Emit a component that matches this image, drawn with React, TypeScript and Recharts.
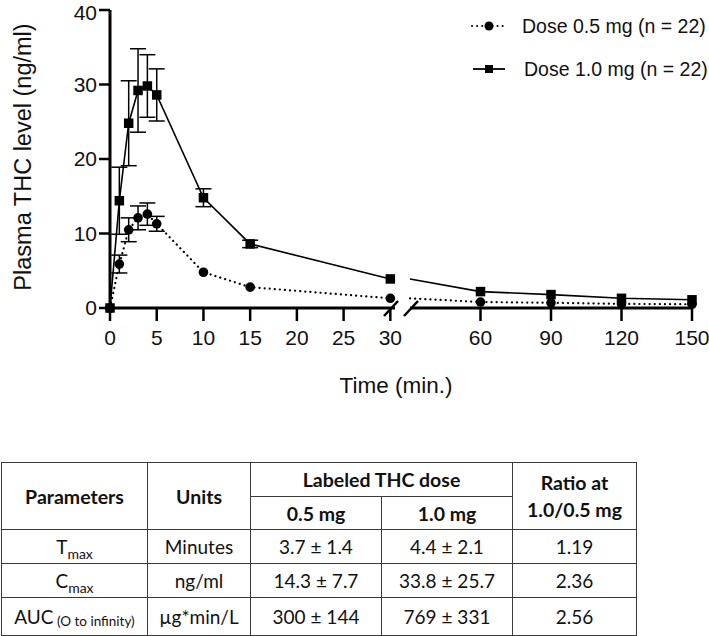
import React from 'react'
import { LineChart, Line, XAxis, YAxis, ErrorBar } from 'recharts'

const times = [0, 1, 2, 3, 4, 5, 10, 15, 30, 60, 90, 120, 150]
const dose05 = [0, 5.9, 10.5, 12.1, 12.6, 11.3, 4.8, 2.8, 1.3, 0.8, 0.7, 0.55, 0.5]
const dose05Err = [0, 1.2, 1.6, 1.6, 1.5, 1.0, 0, 0, 0, 0, 0, 0, 0]
const dose10 = [0, 14.4, 24.8, 29.2, 29.8, 28.6, 14.8, 8.6, 3.9, 2.2, 1.8, 1.3, 1.1]
const dose10Err = [0, 4.5, 5.7, 5.6, 4.2, 3.5, 1.2, 0.5, 0, 0, 0, 0, 0]
const yTicks = [0, 10, 20, 30, 40]
const xTicksEarly = [0, 5, 10, 15, 20, 25, 30]
const xTicksLate = [60, 90, 120, 150]
const seriesNames = ['Dose 0.5 mg (n = 22)', 'Dose 1.0 mg (n = 22)']

// table
const paramNames = ['T', 'C', 'AUC']
const paramSubs = ['max', 'max', '(O to infinity)']
const units = ['Minutes', 'ng/ml', 'µg*min/L']
const lowDose = ['3.7 ± 1.4', '14.3 ± 7.7', '300 ± 144']
const highDose = ['4.4 ± 2.1', '33.8 ± 25.7', '769 ± 331']
const ratios = ['1.19', '2.36', '2.56']

const rows = times.map((t, i) => ({
  time: t,
  low: dose05[i],
  lowErr: dose05Err[i],
  high: dose10[i],
  highErr: dose10Err[i],
}))
const early = rows.filter(r => r.time <= 30)
const late = rows.filter(r => r.time >= 30)

const INK = '#111'
const FONT = '"Liberation Sans", Arial, sans-serif'

const makeSquare = (skipFirst: boolean) => (p: any) => {
  const { cx, cy, index, payload } = p
  if (cx == null || cy == null || (skipFirst && payload.time <= 30)) return <g key={'s' + index} />
  return <rect key={'s' + index} x={cx - 4.75} y={cy - 4.75} width={9.5} height={9.5} fill="#000" />
}
const makeCircle = (skipFirst: boolean) => (p: any) => {
  const { cx, cy, index, payload } = p
  if (cx == null || cy == null || (skipFirst && payload.time <= 30)) return <g key={'c' + index} />
  return <circle key={'c' + index} cx={cx} cy={cy} r={4.8} fill="#000" />
}

const YLabel = ({ viewBox }: any) => {
  const cx = viewBox.x + 23
  const cy = viewBox.y + viewBox.height / 2 - 2
  return (
    <text x={cx} y={cy} transform={`rotate(-90 ${cx} ${cy})`} textAnchor="middle"
      dominantBaseline="central" fontSize={23.5} fill={INK} fontFamily={FONT}>
      Plasma THC level (ng/ml)
    </text>
  )
}

const axisLine = { stroke: '#000', strokeWidth: 3 }
const tickLine = { stroke: '#000', strokeWidth: 2.5 }
const tickStyle = { fontSize: 21, fill: INK, fontFamily: FONT }

function ChartLegend() {
  return (
    <svg width={260} height={95} style={{ position: 'absolute', left: 460, top: 0 }}>
      <line x1={12} x2={47} y1={26} y2={26} stroke="#000" strokeWidth={2} strokeDasharray="0.1 5" strokeLinecap="round" />
      <circle cx={29} cy={26} r={4.5} fill="#000" />
      <text x={62} y={26} dominantBaseline="central" fontSize={19.5} fill={INK} fontFamily={FONT}>{seriesNames[0]}</text>
      <line x1={13} x2={45} y1={69} y2={69} stroke="#000" strokeWidth={1.8} />
      <rect x={25} y={65} width={8} height={8} fill="#000" />
      <text x={64} y={69} dominantBaseline="central" fontSize={19.5} fill={INK} fontFamily={FONT}>{seriesNames[1]}</text>
    </svg>
  )
}

const cell: React.CSSProperties = {
  border: '1.5px solid #3a3a3a',
  padding: 0,
  textAlign: 'center',
  verticalAlign: 'middle',
}
const head: React.CSSProperties = { ...cell, fontWeight: 700, fontSize: 19.5 }

function ParamTable() {
  return (
    <table style={{
      position: 'absolute', left: 1, top: 462, width: 635, borderCollapse: 'collapse',
      tableLayout: 'fixed', fontFamily: 'Lato, sans-serif', fontSize: 19, color: INK,
    }}>
      <colgroup>
        <col style={{ width: 146 }} />
        <col style={{ width: 103 }} />
        <col style={{ width: 131 }} />
        <col style={{ width: 131 }} />
        <col style={{ width: 124 }} />
      </colgroup>
      <tbody>
        <tr style={{ height: 34 }}>
          <td style={head} rowSpan={2}>Parameters</td>
          <td style={head} rowSpan={2}>Units</td>
          <td style={head} colSpan={2}>Labeled THC dose</td>
          <td style={{ ...head, lineHeight: '27px' }} rowSpan={2}>Ratio at<br />1.0/0.5 mg</td>
        </tr>
        <tr style={{ height: 33 }}>
          <td style={head}>0.5 mg</td>
          <td style={head}>1.0 mg</td>
        </tr>
        {paramNames.map((p, i) => (
          <tr key={p + i} style={{ height: i === 2 ? 38 : 34 }}>
            <td style={cell}>
              {p}
              {i < 2
                ? <span style={{ fontSize: 14, position: 'relative', top: 5 }}>{paramSubs[i]}</span>
                : <span style={{ fontSize: 13.5, position: 'relative', top: 2 }}> {paramSubs[i]}</span>}
            </td>
            <td style={cell}>{units[i]}</td>
            <td style={cell}>{lowDose[i]}</td>
            <td style={cell}>{highDose[i]}</td>
            <td style={cell}>{ratios[i]}</td>
          </tr>
        ))}
      </tbody>
    </table>
  )
}

export default function App() {
  return (
    <div style={{ position: 'absolute', left: 0, top: 0, width: 709, height: 636, background: '#fff', fontFamily: FONT }}>
      <div style={{ position: 'absolute', left: 0, top: 0 }}>
        <LineChart width={709} height={400} data={early} margin={{ top: 10, right: 314, left: 0, bottom: 0 }}>
          <XAxis dataKey="time" type="number" domain={[0, 30.5]} ticks={xTicksEarly} height={92}
            axisLine={axisLine} tickLine={tickLine} tickSize={13} tickMargin={9} tick={tickStyle} interval={0} />
          <YAxis type="number" domain={[0, 40]} ticks={yTicks} width={110}
            axisLine={axisLine} tickLine={tickLine} tickSize={11} tickMargin={2} tick={tickStyle}
            label={{ content: YLabel }} />
          <Line dataKey="low" name={seriesNames[0]} type="linear" stroke="#000" strokeWidth={2.2}
            strokeDasharray="0.1 5" strokeLinecap="round" dot={makeCircle(false)} activeDot={false} isAnimationActive={false}>
            <ErrorBar dataKey="lowErr" direction="y" width={8} stroke="#000" strokeWidth={1.5} />
          </Line>
          <Line dataKey="high" name={seriesNames[1]} type="linear" stroke="#000" strokeWidth={1.6}
            dot={makeSquare(false)} activeDot={false} isAnimationActive={false}>
            <ErrorBar dataKey="highErr" direction="y" width={8} stroke="#000" strokeWidth={1.5} />
          </Line>
        </LineChart>
      </div>
      <div style={{ position: 'absolute', left: 0, top: 0 }}>
        <LineChart width={709} height={400} data={late} margin={{ top: 10, right: 17, left: 410, bottom: 0 }}>
          <XAxis dataKey="time" type="number" domain={[30, 150]} ticks={xTicksLate} height={92}
            axisLine={axisLine} tickLine={tickLine} tickSize={13} tickMargin={9} tick={tickStyle} interval={0} />
          <YAxis hide type="number" domain={[0, 40]} />
          <Line dataKey="low" name={seriesNames[0]} type="linear" stroke="#000" strokeWidth={2.2}
            strokeDasharray="0.1 5" strokeLinecap="round" dot={makeCircle(true)} activeDot={false} isAnimationActive={false} />
          <Line dataKey="high" name={seriesNames[1]} type="linear" stroke="#000" strokeWidth={1.6}
            dot={makeSquare(true)} activeDot={false} isAnimationActive={false} />
        </LineChart>
      </div>
      <svg width={709} height={400} style={{ position: 'absolute', left: 0, top: 0, pointerEvents: 'none' }}>
        <line x1={384} y1={316} x2={398} y2={301} stroke="#000" strokeWidth={2.5} />
        <line x1={404} y1={316} x2={418} y2={301} stroke="#000" strokeWidth={2.5} />
        <text x={396} y={385} textAnchor="middle" dominantBaseline="central" fontSize={22.5} fill={INK} fontFamily={FONT}>
          Time (min.)
        </text>
      </svg>
      <ChartLegend />
      <ParamTable />
    </div>
  )
}
